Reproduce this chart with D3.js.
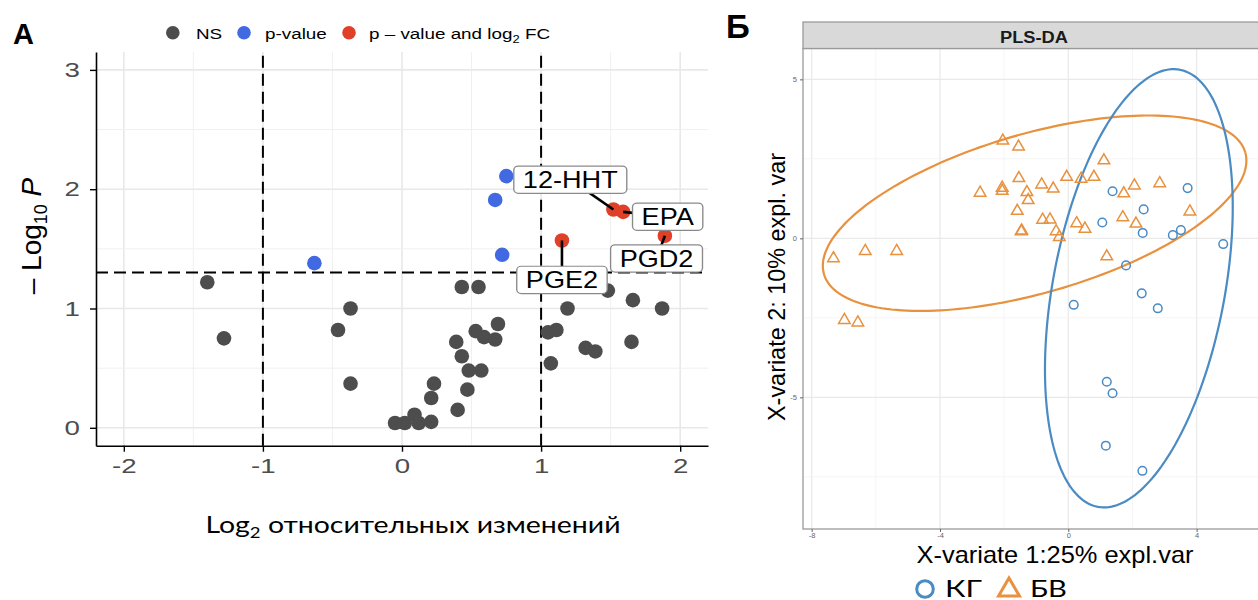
<!DOCTYPE html>
<html>
<head>
<meta charset="utf-8">
<script src="https://cdn.jsdelivr.net/npm/d3@7"></script>
<style>
  body { margin: 0; background: #fff; }
  svg { display: block; }
</style>
</head>
<body>
<svg id="chart" width="1258" height="600"></svg>
<script>
// ---- Panel A: volcano plot data ----
// NS (grey) points
const nsFC   = [-1.40, -1.28, -0.37, -0.46, -0.37, -0.05, 0.02, 0.09, 0.12, 0.21, 0.21, 0.23,
                0.39, 0.43, 0.48, 0.57, 0.47, 0.40, 0.53, 0.59, 0.67, 0.69, 0.43, 0.55,
                1.05, 1.11, 1.07, 1.19, 1.32, 1.39, 1.65, 1.66, 1.87, 1.48];
const nsLogP = [1.22, 0.75, 1.00, 0.82, 0.37, 0.04, 0.04, 0.11, 0.04, 0.05, 0.25, 0.37,
                0.72, 0.60, 0.48, 0.48, 0.32, 0.15, 0.81, 0.76, 0.74, 0.87, 1.18, 1.18,
                0.80, 0.82, 0.54, 1.00, 0.67, 0.64, 0.72, 1.07, 1.00, 1.15];
// p-value only (blue)
const pvFC   = [-0.63, 0.67, 0.75, 0.72];
const pvLogP = [1.38, 1.91, 2.11, 1.45];
// p-value and log2 FC (red), labelled
const sigNames = ["12-HHT", "EPA", "PGD2", "PGE2"];
const sigFC    = [1.52, 1.59, 1.89, 1.15];
const sigLogP  = [1.83, 1.81, 1.61, 1.57];
// where the repelled labels sit (data units)
const labelFC   = [1.21, 1.91, 1.83, 1.15];
const labelLogP = [2.08, 1.77, 1.42, 1.24];

const fcCut = [-1, 1];
const pCut = 1.301;   // -log10(0.05)
const xTicksA = [-2, -1, 0, 1, 2];
const yTicksA = [0, 1, 2, 3];
const legendA = ["NS", "p-value", "p \u2013 value and log"];

// ---- Panel Б: PLS-DA data ----
const kgX = [1.38, 3.72, 2.35, 1.06, 2.32, 3.26, 3.51, 4.83, 1.80, 2.29, 2.79, 0.17, 1.20, 1.38, 1.17, 2.31];
const kgY = [1.48, 1.58, 0.91, 0.50, 0.17, 0.10, 0.26, -0.18, -0.85, -1.73, -2.20, -2.09, -4.51, -4.87, -6.52, -7.31];
const bvX = [-2.04, -1.55, 1.11, -1.54, -0.05, 0.40, 0.80, -0.83, -0.47, -2.06, -2.06, -2.75,
             -1.29, -1.25, -1.59, -1.45, -1.47, -0.80, -0.57, -0.38, -0.28, 0.26, 0.52, 1.20,
             1.73, 2.06, 2.85, 1.70, 2.11, 3.79, -7.32, -6.33, -5.35, -6.98, -6.56];
const bvY = [3.07, 2.88, 2.45, 1.89, 1.93, 1.87, 1.93, 1.69, 1.56, 1.59, 1.49, 1.43,
             1.45, 1.20, 0.86, 0.24, 0.22, 0.58, 0.59, 0.22, 0.04, 0.47, 0.30, -0.57,
             1.41, 1.66, 1.73, 0.66, 0.46, 0.84, -0.63, -0.40, -0.40, -2.57, -2.65];
// confidence ellipses: centre x, centre y, semi-axis a, semi-axis b, angle (deg)
const ellKG = [2.20, -1.57, 6.99, 2.68, 79.5];
const ellBV = [-1.05, 0.79, 6.84, 2.50, 16.3];
const groups = ["\u041a\u0413", "\u0411\u0412"];
const xTicksB = [-8, -4, 0, 4];
const yTicksB = [5, 0, -5];

const grey = "#4d4d4d", blue = "#4169e1", red = "#e0402a";
const kgCol = "#4a8bc4", bvCol = "#e8913e";
const sans = "'Liberation Sans', Arial, sans-serif";

const svg = d3.select("#chart");
svg.append("rect").attr("width", 1258).attr("height", 600).attr("fill", "#fff");

// ================= Panel A =================
const xA = d3.scaleLinear().domain([-2.2, 2.2]).range([96, 708]);
const yA = d3.scaleLinear().domain([-0.15, 3.15]).range([445.7, 52]);
const gA = svg.append("g");

// grid
[-1.5, -0.5, 0.5, 1.5].forEach(v => gA.append("line")
  .attr("x1", xA(v)).attr("x2", xA(v)).attr("y1", yA.range()[0]).attr("y2", yA.range()[1])
  .attr("stroke", "#f0f0f0").attr("stroke-width", 1));
xTicksA.forEach(v => gA.append("line")
  .attr("x1", xA(v)).attr("x2", xA(v)).attr("y1", yA.range()[0]).attr("y2", yA.range()[1])
  .attr("stroke", "#e8e8e8").attr("stroke-width", 1.6));
[0.5, 1.5, 2.5].forEach(v => gA.append("line")
  .attr("x1", xA.range()[0]).attr("x2", xA.range()[1]).attr("y1", yA(v)).attr("y2", yA(v))
  .attr("stroke", "#f0f0f0").attr("stroke-width", 1));
yTicksA.forEach(v => gA.append("line")
  .attr("x1", xA.range()[0]).attr("x2", xA.range()[1]).attr("y1", yA(v)).attr("y2", yA(v))
  .attr("stroke", "#e8e8e8").attr("stroke-width", 1.6));

// axes
const axA = gA.append("g").attr("transform", `translate(0,${yA(-0.15)})`)
  .call(d3.axisBottom(xA).tickValues(xTicksA).tickSize(6).tickSizeOuter(0).tickPadding(7)
    .tickFormat(d => String(d)));
const ayA = gA.append("g").attr("transform", `translate(${xA(-2.2)},0)`)
  .call(d3.axisLeft(yA).tickValues(yTicksA).tickSize(6).tickSizeOuter(0).tickPadding(6)
    .tickFormat(d => String(d)));
[axA, ayA].forEach(ax => {
  ax.select(".domain").attr("stroke", "#000").attr("stroke-width", 1.6);
  ax.selectAll(".tick line").attr("stroke", "#000").attr("stroke-width", 1.4);
  ax.selectAll(".tick text").attr("fill", grey).attr("font-size", 20.5)
    .attr("font-family", sans).attr("transform", "scale(1.35,1)");
});

// threshold lines
fcCut.forEach(v => gA.append("line")
  .attr("x1", xA(v)).attr("x2", xA(v)).attr("y1", yA(-0.15)).attr("y2", yA(3.15))
  .attr("stroke", "#000").attr("stroke-width", 2).attr("stroke-dasharray", "12,6"));
gA.append("line")
  .attr("x1", xA(-2.2)).attr("x2", xA(2.2)).attr("y1", yA(pCut)).attr("y2", yA(pCut))
  .attr("stroke", "#000").attr("stroke-width", 2).attr("stroke-dasharray", "12,6");

// points
gA.selectAll("circle.ns").data(nsFC).join("circle").attr("class", "ns")
  .attr("cx", d => xA(d)).attr("cy", (d, i) => yA(nsLogP[i])).attr("r", 7.3).attr("fill", grey);
gA.selectAll("circle.pv").data(pvFC).join("circle").attr("class", "pv")
  .attr("cx", d => xA(d)).attr("cy", (d, i) => yA(pvLogP[i])).attr("r", 7.3).attr("fill", blue);
gA.selectAll("circle.sig").data(sigFC).join("circle").attr("class", "sig")
  .attr("cx", d => xA(d)).attr("cy", (d, i) => yA(sigLogP[i])).attr("r", 7.3).attr("fill", red);

// connectors + labels
sigNames.forEach((name, i) => {
  gA.append("line")
    .attr("x1", xA(sigFC[i])).attr("y1", yA(sigLogP[i]))
    .attr("x2", xA(labelFC[i])).attr("y2", yA(labelLogP[i]))
    .attr("stroke", "#000").attr("stroke-width", 2.6);
});
sigNames.forEach((name, i) => {
  const g = gA.append("g")
    .attr("transform", `translate(${xA(labelFC[i])},${yA(labelLogP[i])}) scale(1.13,1)`);
  const t = g.append("text").attr("text-anchor", "middle").attr("y", 8.6)
    .attr("font-family", sans).attr("font-size", 24).attr("fill", "#000").text(name);
  const w = t.node().getComputedTextLength() + 16;
  g.insert("rect", "text").attr("x", -w / 2).attr("y", -13.6).attr("width", w).attr("height", 27.3)
    .attr("rx", 4).attr("fill", "#fff").attr("stroke", "#8a8a8a").attr("stroke-width", 1.2);
});

// legend
const legCols = [grey, blue, red];
const legDotX = [172.8, 244, 349];
const legTxtX = [196, 265, 369];
legendA.forEach((lab, i) => {
  svg.append("circle").attr("cx", legDotX[i]).attr("cy", 32.7).attr("r", 6.8).attr("fill", legCols[i]);
  const t = svg.append("text").attr("transform", `translate(${legTxtX[i]},38.5) scale(1.3,1)`)
    .attr("font-family", sans).attr("font-size", 14.5).attr("fill", "#000").text(lab);
  if (i === 2) {
    t.append("tspan").attr("font-size", 10).attr("dy", 4).text("2");
    t.append("tspan").attr("dy", -4).text(" FC");
  }
});

// axis titles
const ttlA = svg.append("text").attr("x", 413).attr("y", 533).attr("text-anchor", "middle")
  .attr("font-family", "Lato, 'Open Sans', sans-serif").attr("font-size", 23)
  .attr("textLength", 415).attr("lengthAdjust", "spacingAndGlyphs").attr("fill", "#000");
ttlA.append("tspan").text("Log");
ttlA.append("tspan").attr("font-size", 15).attr("dy", 5).text("2");
ttlA.append("tspan").attr("dy", -5).text(" \u043e\u0442\u043d\u043e\u0441\u0438\u0442\u0435\u043b\u044c\u043d\u044b\u0445 \u0438\u0437\u043c\u0435\u043d\u0435\u043d\u0438\u0439");

const ytA = svg.append("text").attr("transform", "translate(41,236) rotate(-90)")
  .attr("text-anchor", "middle").attr("font-family", sans).attr("font-size", 28).attr("fill", "#000");
ytA.append("tspan").text("\u2013 Log");
ytA.append("tspan").attr("font-size", 18).attr("dy", 6).text("10");
ytA.append("tspan").attr("dy", -6).text(" ");
ytA.append("tspan").attr("font-style", "italic").text("P");

svg.append("text").attr("x", 13).attr("y", 44).attr("font-family", sans).attr("font-weight", "bold")
  .attr("font-size", 29).attr("fill", "#000").text("A");

// ================= Panel Б =================
const xB = d3.scaleLinear().domain([-8.27, 6.07]).range([803, 1263]);
const yB = d3.scaleLinear().domain([-9.14, 5.97]).range([529, 48.5]);
const gB = svg.append("g");

[-6, -2, 2, 6].forEach(v => gB.append("line")
  .attr("x1", xB(v)).attr("x2", xB(v)).attr("y1", yB.range()[0]).attr("y2", yB.range()[1])
  .attr("stroke", "#f2f2f2").attr("stroke-width", 0.8));
xTicksB.forEach(v => gB.append("line")
  .attr("x1", xB(v)).attr("x2", xB(v)).attr("y1", yB.range()[0]).attr("y2", yB.range()[1])
  .attr("stroke", "#e9e9e9").attr("stroke-width", 1.2));
[2.5, -2.5, -7.5].forEach(v => gB.append("line")
  .attr("x1", xB.range()[0]).attr("x2", xB.range()[1]).attr("y1", yB(v)).attr("y2", yB(v))
  .attr("stroke", "#f2f2f2").attr("stroke-width", 0.8));
yTicksB.forEach(v => gB.append("line")
  .attr("x1", xB.range()[0]).attr("x2", xB.range()[1]).attr("y1", yB(v)).attr("y2", yB(v))
  .attr("stroke", "#e9e9e9").attr("stroke-width", 1.2));

// panel border and strip
gB.append("rect").attr("x", 803).attr("y", 48.5).attr("width", 460).attr("height", 480.5)
  .attr("fill", "none").attr("stroke", "#9a9a9a").attr("stroke-width", 1.3);
gB.append("rect").attr("x", 803).attr("y", 22).attr("width", 460).attr("height", 26.5)
  .attr("fill", "#d9d9d9").attr("stroke", "#9a9a9a").attr("stroke-width", 1.3);
gB.append("text").attr("x", 1034).attr("y", 42.5).attr("text-anchor", "middle")
  .attr("font-family", sans).attr("font-weight", "bold").attr("font-size", 16)
  .attr("textLength", 68).attr("lengthAdjust", "spacingAndGlyphs").attr("fill", "#1a1a1a").text("PLS-DA");

// axes (ticks only, border is the frame)
const axB = gB.append("g").attr("transform", "translate(0,529)")
  .call(d3.axisBottom(xB).tickValues(xTicksB).tickSize(3).tickSizeOuter(0).tickPadding(1)
    .tickFormat(d => String(d)));
const ayB = gB.append("g").attr("transform", "translate(803,0)")
  .call(d3.axisLeft(yB).tickValues(yTicksB).tickSize(3).tickSizeOuter(0).tickPadding(3)
    .tickFormat(d => String(d)));
[axB, ayB].forEach(ax => {
  ax.select(".domain").remove();
  ax.selectAll(".tick line").attr("stroke", "#666");
  ax.selectAll(".tick text").attr("fill", "#666").attr("font-size", 7.5).attr("font-family", sans);
});

// ellipses
function ellipsePath(p) {
  const [cx, cy, a, b, deg] = p;
  const th = deg * Math.PI / 180;
  const pts = d3.range(0, 201).map(k => {
    const t = k / 200 * 2 * Math.PI;
    return [cx + a * Math.cos(t) * Math.cos(th) - b * Math.sin(t) * Math.sin(th),
            cy + a * Math.cos(t) * Math.sin(th) + b * Math.sin(t) * Math.cos(th)];
  });
  return d3.line().x(d => xB(d[0])).y(d => yB(d[1]))(pts);
}
gB.append("path").attr("d", ellipsePath(ellBV)).attr("fill", "none")
  .attr("stroke", bvCol).attr("stroke-width", 2.2);
gB.append("path").attr("d", ellipsePath(ellKG)).attr("fill", "none")
  .attr("stroke", kgCol).attr("stroke-width", 2.2);

// points
const tri = d3.symbol(d3.symbolTriangle).size(58)();
gB.selectAll("path.bv").data(bvX).join("path").attr("class", "bv")
  .attr("d", tri)
  .attr("transform", (d, i) => `translate(${xB(d)},${yB(bvY[i])})`)
  .attr("fill", "none").attr("stroke", bvCol).attr("stroke-width", 1.5);
gB.selectAll("circle.kg").data(kgX).join("circle").attr("class", "kg")
  .attr("cx", d => xB(d)).attr("cy", (d, i) => yB(kgY[i])).attr("r", 4.3)
  .attr("fill", "none").attr("stroke", kgCol).attr("stroke-width", 1.5);

// titles
svg.append("text").attr("x", 1055).attr("y", 563).attr("text-anchor", "middle")
  .attr("font-family", sans).attr("font-size", 24).attr("textLength", 277)
  .attr("lengthAdjust", "spacingAndGlyphs").attr("fill", "#000")
  .text("X-variate 1:25% expl.var");
svg.append("text").attr("transform", "translate(785,287) rotate(-90)").attr("text-anchor", "middle")
  .attr("font-family", sans).attr("font-size", 24).attr("textLength", 268)
  .attr("lengthAdjust", "spacingAndGlyphs").attr("fill", "#000")
  .text("X-variate 2: 10% expl. var");

// legend
svg.append("circle").attr("cx", 925).attr("cy", 589).attr("r", 8.3)
  .attr("fill", "none").attr("stroke", kgCol).attr("stroke-width", 3);
svg.append("path").attr("d", d3.symbol(d3.symbolTriangle).size(190)())
  .attr("transform", "translate(1009,590)")
  .attr("fill", "none").attr("stroke", bvCol).attr("stroke-width", 3);
svg.append("text").attr("x", 945).attr("y", 596.5).attr("font-family", "Lato, sans-serif")
  .attr("font-size", 24).attr("textLength", 37).attr("lengthAdjust", "spacingAndGlyphs")
  .attr("fill", "#000").text(groups[0]);
svg.append("text").attr("x", 1030).attr("y", 596.5).attr("font-family", "Lato, sans-serif")
  .attr("font-size", 24).attr("textLength", 37).attr("lengthAdjust", "spacingAndGlyphs")
  .attr("fill", "#000").text(groups[1]);

svg.append("text").attr("x", 726).attr("y", 38).attr("font-family", sans).attr("font-weight", "bold")
  .attr("font-size", 33).attr("fill", "#000").text("\u0411");
</script>
</body>
</html>
